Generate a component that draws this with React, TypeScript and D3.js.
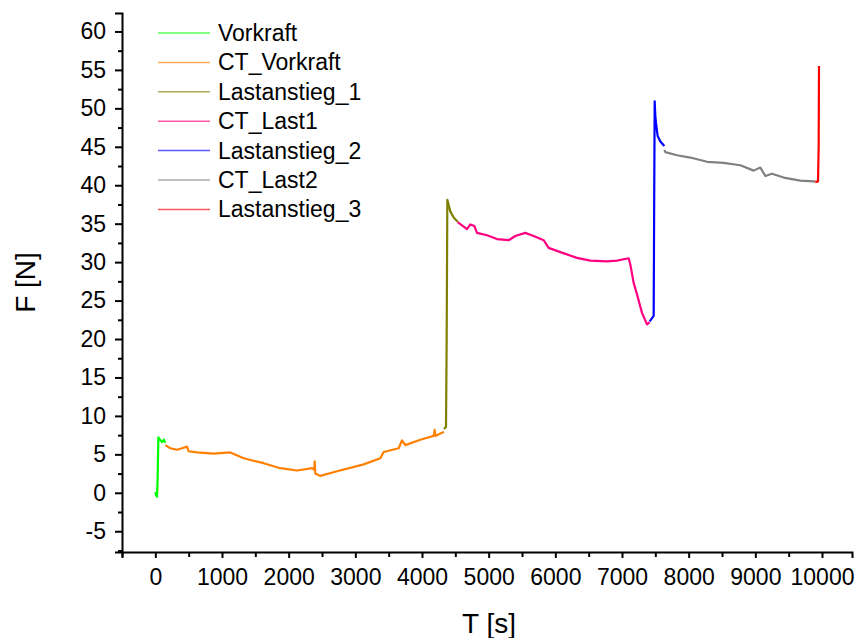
import * as d3 from "d3";
import { useRef, useEffect } from "react";

const width = 855;
const height = 638;
const margin = { top: 13, right: 3, bottom: 86, left: 122 };

// [T in s, F in N]
const vorkraft: [number, number][] = [
  [0, 0.1], [10, -0.3], [25, -0.5], [35, 2.0], [45, 7.2], [70, 6.9], [100, 6.6], [130, 6.9], [150, 6.5],
];
const ctVorkraft: [number, number][] = [
  [150, 6.2], [225, 5.8], [325, 5.6], [400, 5.8], [475, 6.0], [500, 5.4], [625, 5.25], [875, 5.1],
  [1125, 5.25], [1325, 4.5], [1625, 3.85], [1875, 3.2], [2125, 2.9], [2350, 3.2], [2385, 3.0],
  [2390, 4.1], [2400, 2.5], [2475, 2.2], [2725, 2.8], [3125, 3.7], [3375, 4.5], [3425, 5.3],
  [3650, 5.8], [3700, 6.8], [3750, 6.2], [3975, 6.9], [4175, 7.4], [4190, 8.2], [4200, 7.4],
  [4300, 7.8], [4330, 7.9],
];
const lastanstieg1: [number, number][] = [
  [4330, 8.3], [4360, 8.6], [4370, 20], [4380, 38.1], [4425, 36.6], [4475, 35.8], [4535, 35.25],
];
const ctLast1: [number, number][] = [
  [4535, 35.2], [4550, 35.1], [4675, 34.3], [4725, 34.9], [4785, 34.7], [4825, 33.8], [4975, 33.5],
  [5125, 33.0], [5300, 32.85], [5400, 33.4], [5550, 33.8], [5675, 33.4], [5825, 32.85], [5900, 31.85],
  [6075, 31.3], [6325, 30.55], [6525, 30.2], [6775, 30.1], [6925, 30.2], [7100, 30.5], [7125, 29.7],
  [7175, 27.3], [7225, 25.8], [7300, 23.4], [7375, 21.9], [7415, 22.2],
];
const lastanstieg2: [number, number][] = [
  [7415, 22.3], [7475, 23.0], [7490, 50.9], [7500, 49.0], [7510, 48.1], [7535, 46.4], [7575, 45.7],
  [7635, 45.1],
];
const ctLast2: [number, number][] = [
  [7635, 44.6], [7650, 44.3], [7825, 43.9], [8025, 43.6], [8275, 43.05], [8525, 42.9], [8775, 42.6],
  [8975, 41.9], [9075, 42.3], [9150, 41.2], [9250, 41.5], [9425, 41.0], [9675, 40.6], [9875, 40.5],
  [9900, 40.5],
];
const lastanstieg3: [number, number][] = [
  [9900, 40.4], [9940, 40.5], [9950, 45], [9955, 55.5],
];

const seriesNames = [
  "Vorkraft", "CT_Vorkraft", "Lastanstieg_1", "CT_Last1", "Lastanstieg_2", "CT_Last2", "Lastanstieg_3",
];
const seriesData = [vorkraft, ctVorkraft, lastanstieg1, ctLast1, lastanstieg2, ctLast2, lastanstieg3];
const seriesColors = ["#00ff00", "#ff8000", "#808000", "#ff0080", "#0000ff", "#808080", "#ff0000"];

const xMajorTicks = [0, 1000, 2000, 3000, 4000, 5000, 6000, 7000, 8000, 9000, 10000];
const yMajorTicks = [-5, 0, 5, 10, 15, 20, 25, 30, 35, 40, 45, 50, 55, 60];

const font = "'Liberation Sans', Arial, sans-serif";

export default function App() {
  const svgRef = useRef<SVGSVGElement>(null);

  useEffect(() => {
    const svg = d3.select(svgRef.current);
    svg.selectAll("*").remove();

    const x = d3.scaleLinear().domain([-500, 10450]).range([margin.left, width - margin.right]);
    const y = d3.scaleLinear().domain([-7.7, 62.4]).range([height - margin.bottom, margin.top]);

    // data lines
    const line = d3.line<[number, number]>().x(d => x(d[0])).y(d => y(d[1]));
    seriesData.forEach((data, i) => {
      svg.append("path")
        .datum(data)
        .attr("d", line)
        .attr("fill", "none")
        .attr("stroke", seriesColors[i])
        .attr("stroke-width", 2.2)
        .attr("stroke-linejoin", "round");
    });

    // x axis (major + minor ticks)
    const xMinor = d3.range(-500, 10001, 500).filter(v => !xMajorTicks.includes(v));
    const xAxis = svg.append("g").attr("transform", `translate(0,${height - margin.bottom})`);
    xAxis.call(d3.axisBottom(x).tickValues(xMajorTicks).tickSize(6).tickPadding(11).tickFormat(d => String(d)));
    const xm = svg.append("g").attr("transform", `translate(0,${height - margin.bottom})`);
    xm.call(d3.axisBottom(x).tickValues(xMinor).tickSize(5).tickFormat(() => ""));
    xm.select(".domain").remove();

    // y axis (major + minor ticks)
    const yMinor = d3.range(-7.5, 62.5, 2.5).filter(v => !yMajorTicks.includes(v));
    const yAxis = svg.append("g").attr("transform", `translate(${margin.left},0)`);
    yAxis.call(d3.axisLeft(y).tickValues(yMajorTicks).tickSize(7).tickPadding(9).tickFormat(d => String(d)));
    const ym = svg.append("g").attr("transform", `translate(${margin.left},0)`);
    ym.call(d3.axisLeft(y).tickValues(yMinor).tickSize(4).tickFormat(() => ""));
    ym.select(".domain").remove();

    svg.selectAll(".domain").attr("stroke", "#000").attr("stroke-width", 2);
    svg.selectAll(".tick line").attr("stroke", "#000").attr("stroke-width", 2);
    svg.selectAll(".tick text")
      .attr("font-family", font)
      .attr("font-size", 23)
      .attr("fill", "#000");

    // axis titles
    svg.append("text")
      .attr("x", (x(-500) + x(10450)) / 2 + 2)
      .attr("y", 633)
      .attr("text-anchor", "middle")
      .attr("font-family", font)
      .attr("font-size", 28)
      .text("T [s]");
    svg.append("text")
      .attr("transform", `translate(35,${(y(-7.7) + y(62.4)) / 2}) rotate(-90)`)
      .attr("text-anchor", "middle")
      .attr("font-family", font)
      .attr("font-size", 28)
      .text("F [N]");

    // legend
    const legend = svg.append("g").attr("transform", "translate(158,33)");
    seriesNames.forEach((name, i) => {
      const row = legend.append("g").attr("transform", `translate(0,${i * 29.4})`);
      row.append("line")
        .attr("x1", 0).attr("x2", 52).attr("y1", 0).attr("y2", 0)
        .attr("stroke", seriesColors[i])
        .attr("stroke-opacity", 0.65)
        .attr("stroke-width", 1.5);
      row.append("text")
        .attr("x", 60)
        .attr("y", 8)
        .attr("font-family", font)
        .attr("font-size", 23)
        .text(name);
    });
  }, []);

  return (
    <div style={{ position: "absolute", left: 0, top: 0 }}>
      <svg ref={svgRef} width={width} height={height} style={{ display: "block", background: "#fff" }} />
    </div>
  );
}
